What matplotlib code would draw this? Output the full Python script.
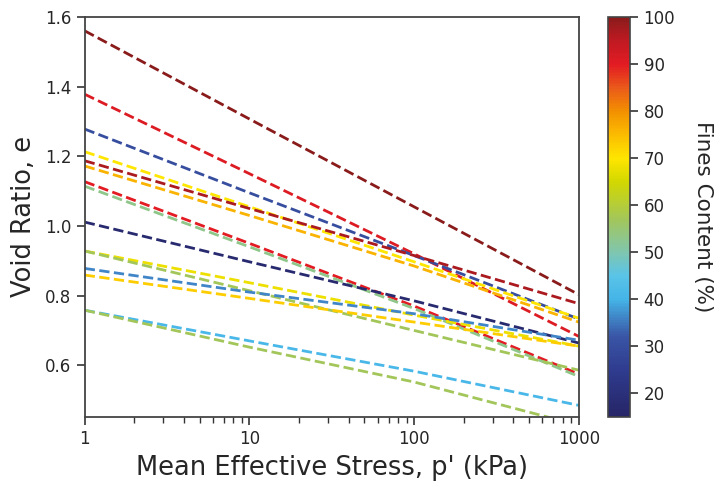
import numpy as np
import matplotlib
matplotlib.use("Agg")
import matplotlib.pyplot as plt
from matplotlib.colors import LinearSegmentedColormap, Normalize
from matplotlib.cm import ScalarMappable

# stress points (kPa)
p_vals = [1, 10, 100, 1000]

# fines content per line (%)
fines = [100, 91, 30, 70, 97, 76, 90, 53, 17, 68, 57, 36, 73, 41, 57]

# void ratio at p = 1, 10, 100, 1000
void_ratios = [
    [1.560, 1.307, 1.055, 0.803],
    [1.378, 1.150, 0.920, 0.683],
    [1.278, 1.095, 0.915, 0.733],
    [1.213, 1.055, 0.897, 0.735],
    [1.187, 1.050, 0.915, 0.777],
    [1.172, 1.030, 0.885, 0.724],
    [1.127, 0.950, 0.770, 0.575],
    [1.114, 0.940, 0.763, 0.568],
    [1.011, 0.897, 0.785, 0.664],
    [0.928, 0.837, 0.744, 0.655],
    [0.928, 0.814, 0.700, 0.586],
    [0.878, 0.810, 0.748, 0.672],
    [0.859, 0.792, 0.724, 0.655],
    [0.758, 0.670, 0.583, 0.485],
    [0.758, 0.652, 0.552, 0.428],
]

cb_ticks = [20, 30, 40, 50, 60, 70, 80, 90, 100]
fc_min, fc_max = 15, 100

nodes = [(15, '#262567'), (25, '#2f3c8f'), (32, '#3a55a5'), (40, '#45b5e8'),
         (45, '#5ac4e8'), (50, '#80c6ae'), (57, '#a3c65a'), (65, '#d2d800'),
         (70, '#ffe600'), (75, '#fbbc00'), (80, '#f39000'), (85, '#ea5a1a'),
         (90, '#e31b23'), (95, '#c01a22'), (100, '#8a1b1b')]
cmap = LinearSegmentedColormap.from_list(
    'fc', [((v - fc_min) / (fc_max - fc_min), c) for v, c in nodes])
norm = Normalize(vmin=fc_min, vmax=fc_max)

plt.rcParams['font.family'] = ['DejaVu Sans']
fig = plt.figure(figsize=(7.18, 4.83), dpi=100)
ax = fig.add_axes([0.118, 0.137, 0.688, 0.828])
cax = fig.add_axes([0.847, 0.137, 0.031, 0.828])

for fc, e in zip(fines, void_ratios):
    ax.plot(p_vals, e, linestyle='--', lw=2.0, color=cmap(norm(fc)))

ax.set_xscale('log')
ax.set_xlim(1, 1000)
ax.set_ylim(0.452, 1.6)
ax.set_xticks([1, 10, 100, 1000])
ax.set_xticklabels(['1', '10', '100', '1000'])
ax.set_yticks([0.6, 0.8, 1.0, 1.2, 1.4, 1.6])
ax.set_yticklabels(['0.6', '0.8', '1.0', '1.2', '1.4', '1.6'])
ax.tick_params(axis='both', which='major', labelsize=12, length=6, width=1.2,
               colors='#333333', labelcolor='#262626', direction='out')
ax.tick_params(axis='x', which='minor', length=4, width=1.0, colors='#333333')
for s in ax.spines.values():
    s.set_color('#444444')
    s.set_linewidth(1.3)
ax.set_xlabel("Mean Effective Stress, p' (kPa)", fontsize=18.5, color='#262626',
              labelpad=5)
ax.set_ylabel("Void Ratio, e", fontsize=18.5, color='#262626', labelpad=6)

sm = ScalarMappable(norm=norm, cmap=cmap)
cb = fig.colorbar(sm, cax=cax)
cb.set_ticks(cb_ticks)
cb.ax.tick_params(labelsize=12, length=6, width=1.2, colors='#333333',
                  labelcolor='#262626')
cb.outline.set_edgecolor('#444444')
cb.outline.set_linewidth(1.2)
cb.set_label('Fines Content (%)', rotation=270, labelpad=27, fontsize=15.5,
             color='#262626')

fig.savefig('out.png', dpi=100)
